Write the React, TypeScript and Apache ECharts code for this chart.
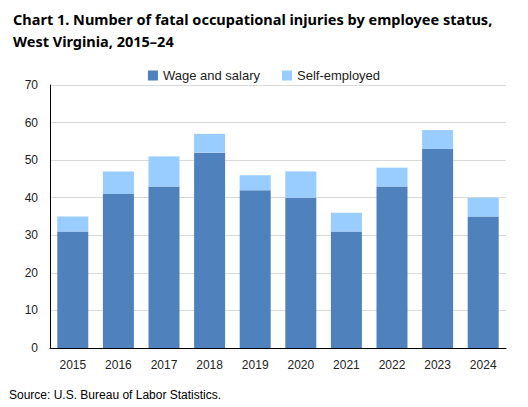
import React, { useEffect, useRef } from "react";
import * as echarts from "echarts";

const years = ["2015", "2016", "2017", "2018", "2019", "2020", "2021", "2022", "2023", "2024"];
const wageAndSalary = [31, 41, 43, 52, 42, 40, 31, 43, 53, 35];
const selfEmployed = [4, 6, 8, 5, 4, 7, 5, 5, 5, 5];
const titleLines = [
  "Chart 1. Number of fatal occupational injuries by employee status,",
  "West Virginia, 2015–24",
];
const sourceText = "Source: U.S. Bureau of Labor Statistics.";

export default function App() {
  const ref = useRef<HTMLDivElement>(null);
  useEffect(() => {
    document.body.style.margin = "0";
    const chart = echarts.init(ref.current!, null, { renderer: "svg" });
    chart.setOption({
      animation: false,
      textStyle: { fontFamily: "Liberation Sans" },
      title: [
        {
          text: titleLines.join("\n"),
          left: 8,
          top: 3,
          textStyle: {
            fontFamily: "Noto Sans",
            fontWeight: "bold",
            fontSize: 14.5,
            lineHeight: 22,
            color: "#000",
          },
        },
        {
          text: sourceText,
          left: 4,
          top: 384,
          textStyle: { fontFamily: "Liberation Sans", fontWeight: "normal", fontSize: 12, color: "#000" },
        },
      ],
      legend: {
        top: 64,
        left: "center",
        itemWidth: 10,
        itemHeight: 10,
        itemGap: 22,
        icon: "rect",
        textStyle: { fontSize: 13, color: "#222", fontFamily: "Liberation Sans" },
        data: ["Wage and salary", "Self-employed"],
      },
      grid: { left: 50, right: 22, top: 85, bottom: 59, containLabel: false },
      xAxis: {
        type: "category",
        data: years,
        axisLine: { lineStyle: { color: "#000", width: 1 } },
        axisTick: { show: false },
        axisLabel: { color: "#222", fontSize: 12, margin: 11 },
      },
      yAxis: {
        type: "value",
        min: 0,
        max: 70,
        interval: 10,
        axisLine: { show: true, lineStyle: { color: "#000", width: 1 } },
        axisTick: { show: false },
        axisLabel: { color: "#222", fontSize: 12, margin: 12 },
        splitLine: { lineStyle: { color: "#d9d9d9", width: 1 } },
      },
      series: [
        {
          name: "Wage and salary",
          type: "bar",
          stack: "total",
          data: wageAndSalary,
          barWidth: "68%",
          itemStyle: { color: "#4f81bd" },
        },
        {
          name: "Self-employed",
          type: "bar",
          stack: "total",
          data: selfEmployed,
          barWidth: "68%",
          itemStyle: { color: "#99ccff" },
        },
      ],
    });
    return () => chart.dispose();
  }, []);
  return <div ref={ref} style={{ width: 528, height: 407 }} />;
}
